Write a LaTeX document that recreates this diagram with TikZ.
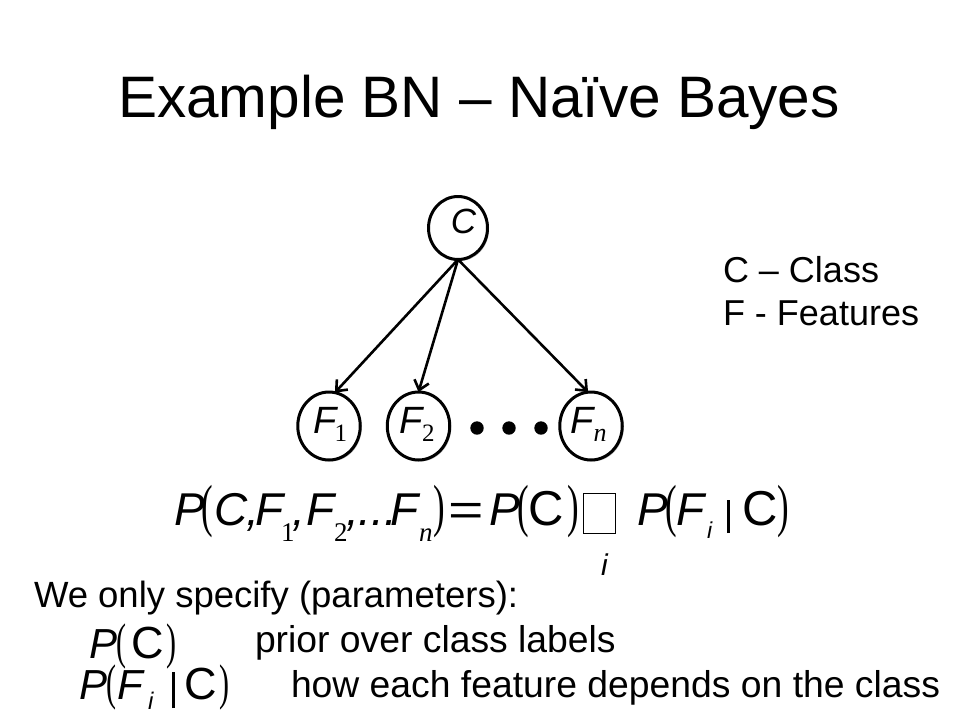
\documentclass[tikz,border=0pt]{standalone}
\usepackage{fontspec}
\setmainfont{Liberation Sans}
\newfontfamily\tms{Liberation Serif}
\usetikzlibrary{arrows.meta,shapes.geometric,shadows}
\newcommand\fsz[1]{\fontsize{#1}{#1}\selectfont}
\newcommand\ita[2]{{\fsz{#1}\itshape #2}}
\newcommand\upr[2]{{\fsz{#1}#2}}
\newcommand\at[2]{\rlap{\hskip#1pt #2}}
\newcommand\lpbig{\scalebox{0.6}[1]{\tms\fsz{58}(}}
\newcommand\rpbig{\scalebox{0.6}[1]{\tms\fsz{58})}}
\newcommand\lpsm{\scalebox{0.6}[1]{\tms\fsz{50}(}}
\newcommand\rpsm{\scalebox{0.6}[1]{\tms\fsz{50})}}
\newcommand\sbs[1]{\raisebox{-16pt}{\tms\fsz{27}#1}}
\begin{document}
\begin{tikzpicture}[x=1pt,y=-1pt,
  every node/.style={inner sep=0pt, outer sep=0pt},
  bnode/.style={ellipse, draw, line width=3pt, fill=white,
    drop shadow={shadow xshift=1.5pt, shadow yshift=-1.5pt, opacity=0.25, fill=black}},
  edgearrow/.style={line width=2.6pt, -{Straight Barb[length=9pt,width=15pt]}},
  txt/.style={anchor=base west, font=\fsz{37.3}},
  bw/.style={anchor=base west},
  dot/.style={circle, fill=black, minimum size=13.4pt}
]
\useasboundingbox (0,0) rectangle (960,720);
\fill[white] (0,0) rectangle (960,720);

% title
\node[bw, font=\fsz{58.5}] (title) at (118,117) {Example BN – Naïve Bayes};

% graph
\node[bnode, minimum width=59pt, minimum height=63pt] (C) at (458,228) {};
\node[font=\fsz{35}\itshape] (Ct) at (463.5,221) {C};
\node[bnode, minimum width=62.5pt, minimum height=68pt] (F1) at (329,426) {};
\node[bnode, minimum width=62.5pt, minimum height=68pt] (F2) at (418.5,426) {};
\node[bnode, minimum width=62.5pt, minimum height=68pt] (Fn) at (591,426) {};
\node[bw] (F1t) at (313.5,433.3) {\ita{38}{F}\kern-2pt\raisebox{-8.4pt}{\tms\fsz{25}1}};
\node[bw] (F2t) at (399,433.3) {\ita{38}{F}\raisebox{-8.4pt}{\tms\fsz{25}2}};
\node[bw] (Fnt) at (570.5,433.3) {\ita{38}{F}\raisebox{-8.4pt}{\tms\fsz{26}\itshape n}};
\node[dot] (d1) at (477,428) {};
\node[dot] (d2) at (509,428) {};
\node[dot] (d3) at (541,428) {};
\draw[edgearrow] (C.south) -- (F1.80);
\draw[edgearrow] (C.south) -- (F2.north);
\draw[edgearrow] (C.south) -- (Fn.95);

% legend
\node[txt, font=\fsz{36}] (lc) at (723,282) {C – Class};
\node[txt, font=\fsz{36}] (lf) at (723,325) {F - Features};

% main formula
\node[bw] (eqL) at (175,525) {%
  \at{-1}{\ita{46}{P}}%
  \at{26}{\lpbig}%
  \at{39}{\ita{46}{C}}%
  \at{71}{\ita{46}{,}}%
  \at{80}{\ita{46}{F}}%
  \at{106}{\sbs{1}}%
  \at{117}{\ita{46}{,}}%
  \at{132}{\ita{46}{F}}%
  \at{159}{\sbs{2}}%
  \at{171}{\ita{46}{,...}}%
  \at{215}{\ita{46}{F}}%
  \at{244}{\sbs{\itshape n}}%
  \at{258}{\rpbig}%
  \phantom{\ita{46}{P}}};
\node[bw] (eq) at (448,525) {\scalebox{1.35}[1]{\fsz{45}=}};
\node[bw] (eqPC) at (492,525) {%
  \at{-3}{\ita{46}{P}}%
  \at{25}{\lpbig}%
  \at{36}{\upr{49}{C}}%
  \at{75}{\rpbig}%
  \phantom{\ita{46}{P}}};
\node[draw, line width=0.8pt, minimum width=32pt, minimum height=40pt] (box) at (599,513) {};
\node[bw, font=\fsz{30}\itshape] (iu) at (601,575) {i};
\node[bw] (eqPF) at (640,525) {%
  \at{-3}{\ita{46}{P}}%
  \at{25}{\lpbig}%
  \at{36}{\ita{46}{F}}%
  \at{67}{\raisebox{-13pt}{\ita{23}{i}}}%
  \at{87}{\rule[-8pt]{3.2pt}{33pt}}%
  \at{102}{\upr{49}{C}}%
  \at{137}{\rpbig}%
  \phantom{\ita{46}{P}}};

% bottom text
\node[txt, font=\fsz{36.5}] (spec) at (34,607) {We only specify (parameters):};
\node[bw] (pc) at (92,658) {%
  \at{-3}{\ita{42}{P}}%
  \at{24}{\lpsm}%
  \at{39}{\upr{45}{C}}%
  \at{74}{\rpsm}%
  \phantom{\ita{42}{P}}};
\node[txt] (prior) at (255,652) {prior over class labels};
\node[bw] (pfc) at (82,699) {%
  \at{-3}{\ita{42}{P}}%
  \at{24}{\lpsm}%
  \at{35}{\ita{42}{F}}%
  \at{66}{\raisebox{-10pt}{\ita{24}{i}}}%
  \at{90}{\rule[-9pt]{3.2pt}{36pt}}%
  \at{102}{\upr{45}{C}}%
  \at{137}{\rpsm}%
  \phantom{\ita{42}{P}}};
\node[txt] (how) at (291,697) {how each feature depends on the class};
\end{tikzpicture}
\end{document}
